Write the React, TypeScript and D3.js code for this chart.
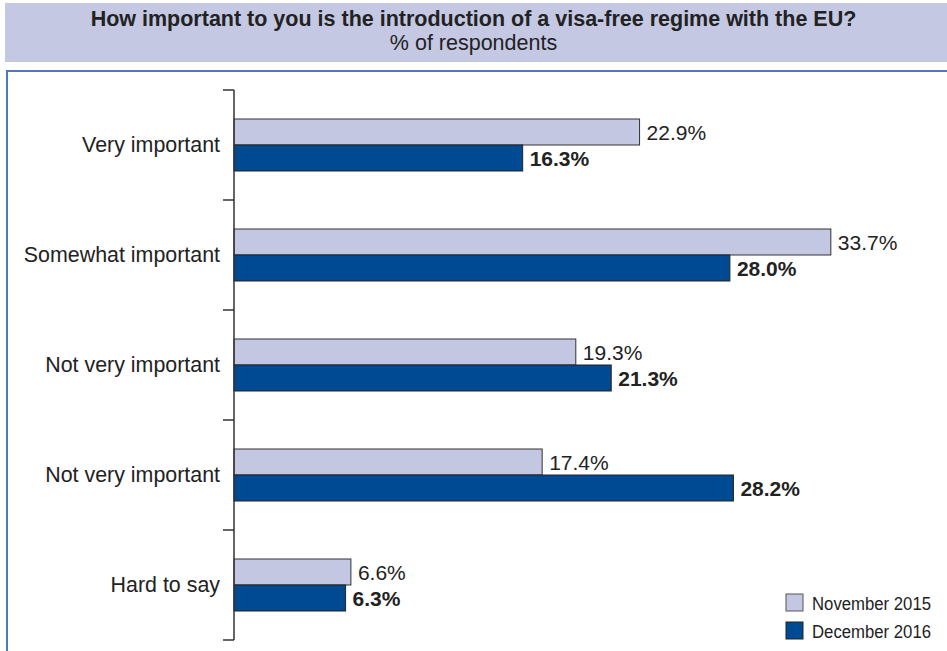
import React from "react";
import * as d3 from "d3";

const categories = ["Very important", "Somewhat important", "Not very important", "Not very important", "Hard to say"];
const nov2015 = [22.9, 33.7, 19.3, 17.4, 6.6];
const dec2016 = [16.3, 28.0, 21.3, 28.2, 6.3];
const seriesNames = ["November 2015", "December 2016"];
const title = "How important to you is the introduction of a visa-free regime with the EU?";
const subtitle = "% of respondents";

const W = 947;
const H = 651;
const LIGHT = "#c3c7e2";
const DARK = "#004a93";
const FONT = "'Liberation Sans', Arial, Helvetica, sans-serif";

export default function App() {
  const axisX = 234;
  const idx = categories.map((_, i) => String(i));
  const y = d3.scaleBand<string>().domain(idx).range([90, 640]).padding(0);
  const x = d3.scaleLinear().domain([0, 1]).range([axisX, axisX + 17.71]);
  const barH = 26;
  const ticks = [...idx.map((i) => y(i) as number), 640];

  return (
    <svg
      width={W}
      height={H}
      style={{ position: "fixed", left: 0, top: 0, background: "#fff" }}
      fontFamily={FONT}
    >
      <rect x={5} y={3} width={W - 5} height={59} fill="#c4c8e2" />
      <text x={473.5} y={26} textAnchor="middle" fontWeight="bold" fontSize={21.5} fill="#222">
        {title}
      </text>
      <text x={473.5} y={50} textAnchor="middle" fontSize={21.5} fill="#222">
        {subtitle}
      </text>
      <rect x={7} y={71} width={W} height={H} fill="none" stroke="#4a7bbf" strokeWidth={2} />

      {categories.map((c, i) => {
        const cy = (y(String(i)) as number) + y.bandwidth() / 2;
        return (
          <g key={i}>
            <text x={220} y={cy} dy="0.35em" textAnchor="end" fontSize={21.4} fill="#222">
              {c}
            </text>
            <rect x={axisX} y={cy - barH} width={x(nov2015[i]) - axisX} height={barH} fill={LIGHT} stroke="#333" strokeWidth={1} />
            <rect x={axisX} y={cy} width={x(dec2016[i]) - axisX} height={barH} fill={DARK} stroke="#222" strokeWidth={1} />
            <text x={x(nov2015[i]) + 7} y={cy - barH / 2} dy="0.36em" fontSize={21} fill="#222">
              {nov2015[i].toFixed(1)}%
            </text>
            <text x={x(dec2016[i]) + 7} y={cy + barH / 2} dy="0.36em" fontSize={21} fontWeight="bold" fill="#222">
              {dec2016[i].toFixed(1)}%
            </text>
          </g>
        );
      })}

      <line x1={axisX} x2={axisX} y1={90} y2={640} stroke="#333" strokeWidth={1.5} />
      {ticks.map((t, i) => (
        <line key={i} x1={223} x2={axisX} y1={t} y2={t} stroke="#333" strokeWidth={1.5} />
      ))}

      {seriesNames.map((s, i) => (
        <g key={s}>
          <rect x={786} y={594 + i * 28} width={17} height={17} fill={i === 0 ? LIGHT : DARK} stroke={i === 0 ? "#555" : "#222"} strokeWidth={1} />
          <text x={812} y={609.5 + i * 28} fontSize={18} fill="#222" textLength={119} lengthAdjust="spacingAndGlyphs">
            {s}
          </text>
        </g>
      ))}
    </svg>
  );
}
